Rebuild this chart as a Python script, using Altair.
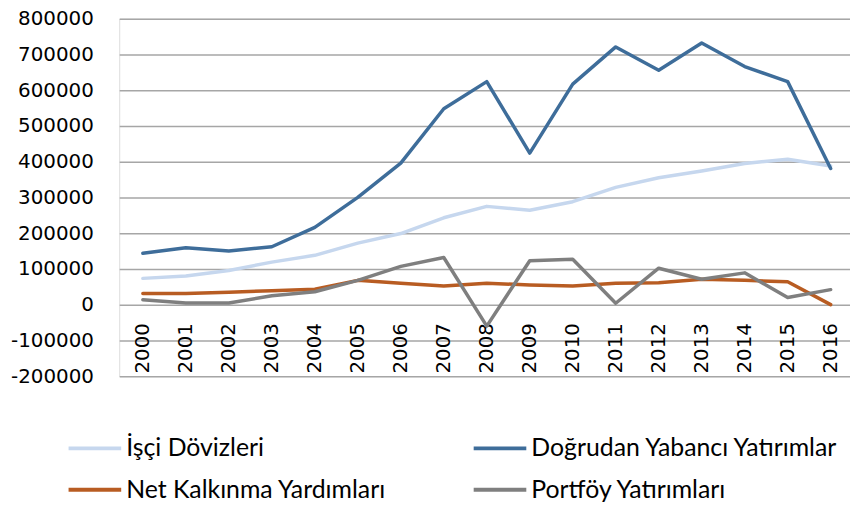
import altair as alt
import pandas as pd

years = [str(y) for y in range(2000, 2017)]
isci = [73500, 80000, 95500, 119000, 138000, 172000, 199000, 243000, 275000, 264000,
        288000, 328000, 355000, 374000, 395000, 407000, 388000]
fdi = [144000, 159000, 150000, 162000, 216000, 300000, 396000, 548000, 624000, 424000,
       617000, 721000, 656000, 732000, 666000, 624000, 381000]
net = [31000, 31000, 35000, 39000, 43000, 68000, 60000, 52000, 60000, 55000,
       52000, 60000, 61000, 71000, 68000, 64000, 0]
port = [14000, 4500, 4500, 25000, 36000, 68000, 107000, 132000, -60000, 123000,
        127000, 4000, 102000, 71000, 89000, 20000, 42000]

series = ["İşçi Dövizleri", "Doğrudan Yabancı Yatırımlar", "Net Kalkınma Yardımları", "Portföy Yatırımları"]
colors = ["#C6D7EE", "#3E6D9A", "#B85C22", "#7F7F7F"]
y_ticks = list(range(-200000, 800001, 100000))

rows = []
for name, vals in zip(series, [isci, fdi, net, port]):
    for yr, v in zip(years, vals):
        rows.append({"Yıl": yr, "Seri": name, "Değer": v, "ord": series.index(name)})
df = pd.DataFrame(rows)

H = 360
W = 736
zero_offset = -H * 200000 / 1000000

chart = alt.Chart(df).mark_line(strokeWidth=3.5, strokeJoin="round", strokeCap="round").encode(
    x=alt.X("Yıl:N", sort=years, scale=alt.Scale(paddingOuter=0.46, align=0.55),
            axis=alt.Axis(title=None, labelAngle=270, ticks=False, domain=False,
                          offset=zero_offset, labelPadding=18, labelFont="DejaVu Sans",
                          labelFontSize=20, labelColor="#000000", grid=False)),
    y=alt.Y("Değer:Q", scale=alt.Scale(domain=[-200000, 800000], nice=False, zero=False),
            axis=alt.Axis(title=None, values=y_ticks, labelExpr="'' + datum.value",
                          ticks=False, domain=False,
                          labelPadding=26, labelFont="DejaVu Sans", labelFontSize=20,
                          labelColor="#000000", gridColor="#A6A6A6", gridWidth=1.5)),
    color=alt.Color("Seri:N", scale=alt.Scale(domain=series, range=colors),
                    legend=alt.Legend(title=None, orient="none", legendX=-53, legendY=404,
                                      direction="horizontal", columns=2, columnPadding=80,
                                      rowPadding=-15,
                                      symbolType="stroke", symbolSize=2809, symbolStrokeWidth=4,
                                      labelFont="Lato", labelFontSize=25,
                                      labelColor="#000000", labelOffset=3, labelLimit=500)),
    order="ord:Q",
).properties(
    width=W, height=H,
    autosize=alt.AutoSizeParams(type="none"),
    padding={"left": 112, "top": 9, "right": 0, "bottom": 128},
).configure_view(stroke=None).configure(background="#FFFFFF")

chart.save("out.html", embed_options={"renderer": "svg", "actions": False})
